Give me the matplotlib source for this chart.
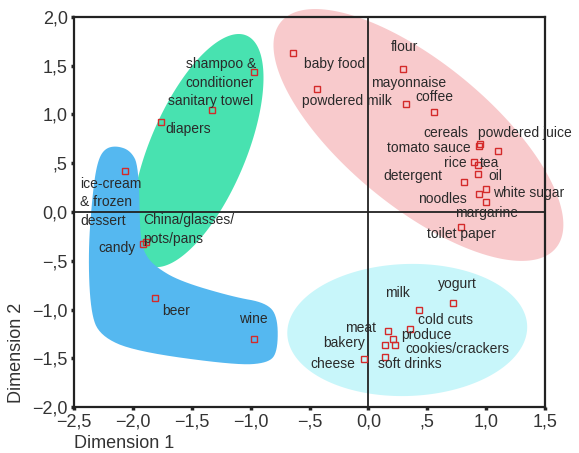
import matplotlib
matplotlib.use('Agg')
import matplotlib.pyplot as plt
import numpy as np

plt.rcParams['font.family'] = ['Liberation Sans', 'DejaVu Sans']

# product coordinates on the two dimensions
products = ['shampoo & conditioner', 'sanitary towel', 'diapers', 'ice-cream & frozen dessert',
            'candy', 'China/glasses/pots/pans', 'beer', 'wine',
            'baby food', 'powdered milk', 'flour', 'mayonnaise', 'coffee', 'cereals', 'tomato sauce',
            'powdered juice', 'rice', 'tea', 'oil', 'detergent', 'white sugar', 'noodles', 'margarine',
            'toilet paper',
            'yogurt', 'milk', 'cold cuts', 'meat', 'produce', 'bakery', 'cookies/crackers',
            'soft drinks', 'cheese']
dim1 = [-0.97, -1.33, -1.76, -2.07,
        -1.91, -1.89, -1.81, -0.97,
        -0.64, -0.44, 0.29, 0.32, 0.56, 0.95, 0.94,
        1.10, 0.90, 0.93, 0.93, 0.81, 1.00, 0.94, 1.00,
        0.79,
        0.72, 0.43, 0.35, 0.17, 0.21, 0.14, 0.23,
        0.14, -0.04]
dim2 = [1.44, 1.05, 0.92, 0.42,
        -0.33, -0.31, -0.88, -1.30,
        1.63, 1.26, 1.47, 1.11, 1.03, 0.70, 0.68,
        0.63, 0.51, 0.48, 0.39, 0.31, 0.24, 0.18, 0.10,
        -0.15,
        -0.93, -1.00, -1.20, -1.22, -1.30, -1.36, -1.36,
        -1.49, -1.51]

# labels as printed on the chart and where they sit
label_text = ['shampoo &\nconditioner', 'sanitary towel', 'diapers', 'ice-cream\n& frozen\ndessert',
              'candy', 'China/glasses/\npots/pans', 'beer', 'wine',
              'baby food', 'powdered milk', 'flour', 'mayonnaise', 'coffee', 'cereals', 'tomato sauce',
              'powdered juice', 'rice', 'tea', 'oil', 'detergent', 'white sugar', 'noodles', 'margarine',
              'toilet paper',
              'yogurt', 'milk', 'cold cuts', 'meat', 'produce', 'bakery', 'cookies/crackers',
              'soft drinks', 'cheese']
label_pos = [(-1.55, 1.42), (-1.70, 1.14), (-1.72, 0.85), (-2.45, 0.10),
             (-2.29, -0.37), (-1.91, -0.18), (-1.75, -1.02), (-1.10, -1.10),
             (-0.55, 1.52), (-0.56, 1.14), (0.19, 1.69), (0.02, 1.32), (0.40, 1.18), (0.47, 0.81), (0.16, 0.66),
             (0.93, 0.81), (0.64, 0.50), (0.95, 0.50), (1.02, 0.37), (0.13, 0.37), (1.06, 0.19), (0.42, 0.13),
             (0.74, -0.01),
             (0.50, -0.23),
             (0.59, -0.74), (0.14, -0.83), (0.42, -1.11), (-0.20, -1.19), (0.28, -1.26), (-0.38, -1.34),
             (0.31, -1.41),
             (0.08, -1.56), (-0.49, -1.56)]

xticks = [-2.5, -2.0, -1.5, -1.0, -0.5, 0.0, 0.5, 1.0, 1.5]
xtick_labels = ['\u22122,5', '\u22122,0', '\u22121,5', '\u22121,0', '\u2212,5', '0,0', ',5', '1,0', '1,5']
yticks = [-2.0, -1.5, -1.0, -0.5, 0.0, 0.5, 1.0, 1.5, 2.0]
ytick_labels = ['\u22122,0', '\u22121,5', '\u22121,0', '\u2212,5', '0,0', ',5', '1,0', '1,5', '2,0']

# outline of the blue cluster (L shape)
blue_x = [-2.30, -2.24, -2.14, -2.02, -1.95, -1.94, -1.90, -1.81, -1.60, -1.15, -0.87, -0.77,
          -0.77, -0.85, -1.13, -1.98, -2.28, -2.36, -2.38, -2.34]
blue_y = [0.52, 0.65, 0.68, 0.63, 0.47, -0.25, -0.43, -0.56, -0.71, -0.87, -0.93, -1.07,
          -1.43, -1.55, -1.57, -1.43, -1.27, -1.02, -0.40, 0.22]

fig = plt.figure(figsize=(5.79, 4.53), dpi=100)
ax = fig.add_axes([0.1278, 0.1015, 0.8135, 0.861])
ax.set_xlim(-2.5, 1.5)
ax.set_ylim(-2.0, 2.0)

bb = ax.get_window_extent()
kx = bb.width / 4.0
ky = bb.height / 4.0


def ellipse(cx, cy, a, b, ang):
    # a, b in pixels, angle on screen
    t = np.linspace(0, 2 * np.pi, 200)
    u, v = a * np.cos(t), b * np.sin(t)
    r = np.radians(ang)
    X = u * np.cos(r) - v * np.sin(r)
    Y = u * np.sin(r) + v * np.cos(r)
    return cx + X / kx, cy + Y / ky


def chaikin(xs, ys, n=3):
    p = np.column_stack([xs, ys])
    for _ in range(n):
        q = np.roll(p, -1, axis=0)
        p = np.column_stack([0.75 * p + 0.25 * q, 0.25 * p + 0.75 * q]).reshape(-1, 2)
    return p[:, 0], p[:, 1]


ex, ey = ellipse(0.425, 0.79, 178, 72, -39.4)
ax.fill(ex, ey, color='#F8CACC', lw=0, zorder=1, clip_on=False)
ex, ey = ellipse(0.33, -1.21, 120, 66, 2)
ax.fill(ex, ey, color='#C8F6FA', lw=0, zorder=1)
ex, ey = ellipse(-1.45, 0.63, 125, 48, 67)
ax.fill(ex, ey, color='#48E2B0', lw=0, zorder=2)
bx, by = chaikin(blue_x, blue_y)
ax.fill(bx, by, color='#55B8F0', lw=0, zorder=3)

ax.axhline(0, color='#222222', lw=1.3, zorder=4)
ax.axvline(0, color='#222222', lw=1.3, zorder=4)

ax.plot(dim1, dim2, ls='none', marker='s', ms=4.2, mec='#D42A2A', mfc='none', mew=1.0, zorder=6)

for txt, (tx, ty) in zip(label_text, label_pos):
    ax.text(tx, ty, txt, fontsize=10, color='#2a2a2a', ha='left', va='center',
            linespacing=1.4, zorder=7)

ax.set_xticks(xticks)
ax.set_xticklabels(xtick_labels)
ax.set_yticks(yticks)
ax.set_yticklabels(ytick_labels)
ax.tick_params(direction='out', length=2.5, width=2.5, color='#222222', labelsize=13,
               labelcolor='#333333', pad=2)
for s in ax.spines.values():
    s.set_linewidth(1.6)
    s.set_color('#222222')
    s.set_zorder(5)

fig.text(74 / 579, 1 - 444 / 453, 'Dimension 1', fontsize=13, color='#333333', ha='left', va='center')
fig.text(17 / 579, 1 - 353 / 453, 'Dimension 2', fontsize=13, color='#333333', ha='center', va='center',
         rotation=90)

fig.savefig('out.png', dpi=100)
